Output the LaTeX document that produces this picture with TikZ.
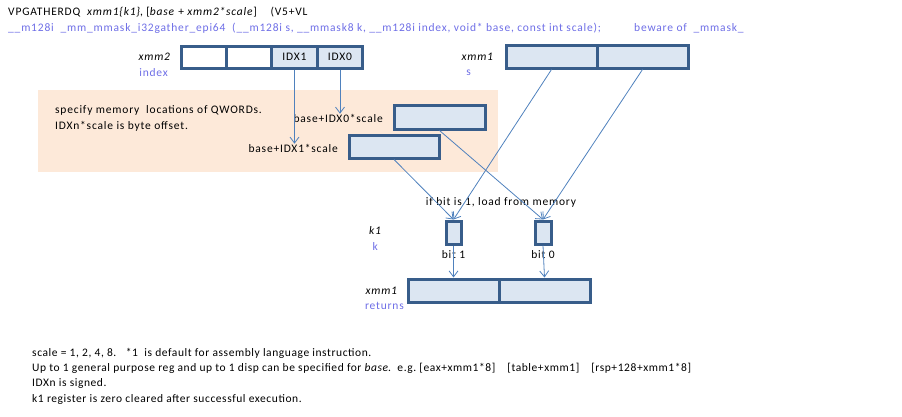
\documentclass[tikz,border=0pt]{standalone}
\usepackage{fontspec}
\setmainfont{Carlito}
\newfontfamily\mainlsp{Carlito}[LetterSpace=7]
\newfontfamily\footlsp{Carlito}[LetterSpace=5]
\usetikzlibrary{arrows.meta}
\definecolor{bord}{HTML}{385D8A}
\definecolor{cellfill}{HTML}{DCE6F2}
\definecolor{lav}{HTML}{6E6EE6}
\definecolor{arrc}{HTML}{4F81BD}
\definecolor{peach}{HTML}{FDE9D9}
\begin{document}
\begin{tikzpicture}[x=1pt,y=-1pt,
  every node/.style={font=\mainlsp\fontsize{11.5}{13}\selectfont},
  cell/.style={draw=bord,line width=3pt,fill=cellfill,inner sep=0pt,minimum height=22pt},
  wcell/.style={cell,fill=white},
  lbl/.style={inner sep=0pt,anchor=east},
  sub/.style={inner sep=0pt,anchor=east,text=lav},
  txt/.style={inner sep=0pt,anchor=west},
  foot/.style={txt,font=\footlsp\fontsize{11.5}{13}\selectfont},
  arr/.style={draw=arrc,line width=0.8pt,-{Straight Barb[length=6pt,width=9pt,line width=0.8pt]}}
]
\useasboundingbox (0,0) rectangle (902,416);
% title
\node[txt] (t1) at (8,12) {VPGATHERDQ\ \ \textit{xmm1\{k1\}}, [\textit{base} + \textit{xmm2*scale}]\ \ \ \ (V5+VL};
\node[txt,text=lav] (t2) at (8,28) {\_\_m128i\ \ \_mm\_mmask\_i32gather\_epi64\ \ (\_\_m128i s, \_\_mmask8 k, \_\_m128i index, void* base, const int scale);};
\node[txt,text=lav] (t3) at (634,28) {beware of\ \ \_mmask\_};
% peach background
\node[fill=peach,inner sep=0pt,minimum width=460pt,minimum height=82pt,anchor=north west] (bg) at (38,90) {};
\node[txt] (n1) at (55,110) {specify memory\ \ locations of QWORDs.};
\node[txt] (n2) at (55,126) {IDXn*scale is byte offset.};
% xmm2 index
\node[wcell,minimum width=45.5pt] (c1) at (204,57) {};
\node[wcell,minimum width=45.5pt] (c2) at (249.5,57) {};
\node[cell,minimum width=45.5pt] (c3) at (294.5,57) {IDX1};
\node[cell,minimum width=45.5pt] (c4) at (340,57) {IDX0};
\node[lbl] (x2) at (171,57) {\textit{xmm2}};
\node[sub] (x2s) at (168,73) {index};
% xmm1 s
\node[cell,minimum width=91pt,minimum height=23pt] (s1) at (551.5,56.5) {};
\node[cell,minimum width=91pt,minimum height=23pt] (s0) at (642.5,56.5) {};
\node[lbl] (x1) at (494,57) {\textit{xmm1}};
\node[sub] (x1s) at (471,73) {s};
% memory boxes
\node[cell,minimum width=91pt,minimum height=24pt] (m0) at (439.5,117) {};
\node[cell,minimum width=90pt,minimum height=23pt] (m1) at (394,146.5) {};
\node[lbl] (l0) at (383,118) {base+IDX0*scale};
\node[lbl] (l1) at (338,148) {base+IDX1*scale};
% mask
\node[cell,minimum width=15pt,minimum height=23pt] (b1) at (453.5,232.5) {};
\node[cell,minimum width=16pt,minimum height=23pt] (b0) at (543,232.5) {};
\node[lbl] (k1) at (382,231) {\textit{k1}};
\node[sub] (k1s) at (378,247) {k};
\node[inner sep=0pt] (bt1) at (453.5,255) {bit 1};
\node[inner sep=0pt] (bt0) at (543,255) {bit 0};
\node[inner sep=0pt] (cond) at (501,202) {if bit is 1, load from memory};
% result
\node[cell,minimum width=91pt,minimum height=23pt] (r1) at (453.5,290.5) {};
\node[cell,minimum width=91pt,minimum height=23pt] (r0) at (544.5,290.5) {};
\node[lbl] (x3) at (398,291) {\textit{xmm1}};
\node[sub] (x3s) at (404,306) {returns};
% arrows
\draw[arr] (c3.south) -- (c3.south |- l1.north);
\draw[arr] (c4.south) -- (c4.south |- l0.north);
\draw[arr] (m1.south) -- (b1.north);
\draw[arr] (s1.south) -- (b1.north);
\draw[arr] (m0.south) -- (b0.north);
\draw[arr] (s0.south) -- (b0.north);
\draw[arr] (b1.south) -- (r1.north);
\draw[arr] (b0.south) -- (r0.north);
% notes
\node[foot] (f1) at (32,353) {scale = 1, 2, 4, 8.\ \ \ *1\ \ is default for assembly language instruction.};
\node[foot] (f2) at (32,368) {Up to 1 general purpose reg and up to 1 disp can be specified for \textit{base}.\ \ e.g.\ [eax+xmm1*8]\hspace{12pt}[table+xmm1]\hspace{12pt}[rsp+128+xmm1*8]};
\node[foot] (f3) at (32,383) {IDXn is signed.};
\node[foot] (f4) at (32,399) {k1 register is zero cleared after successful execution.};
\end{tikzpicture}
\end{document}
